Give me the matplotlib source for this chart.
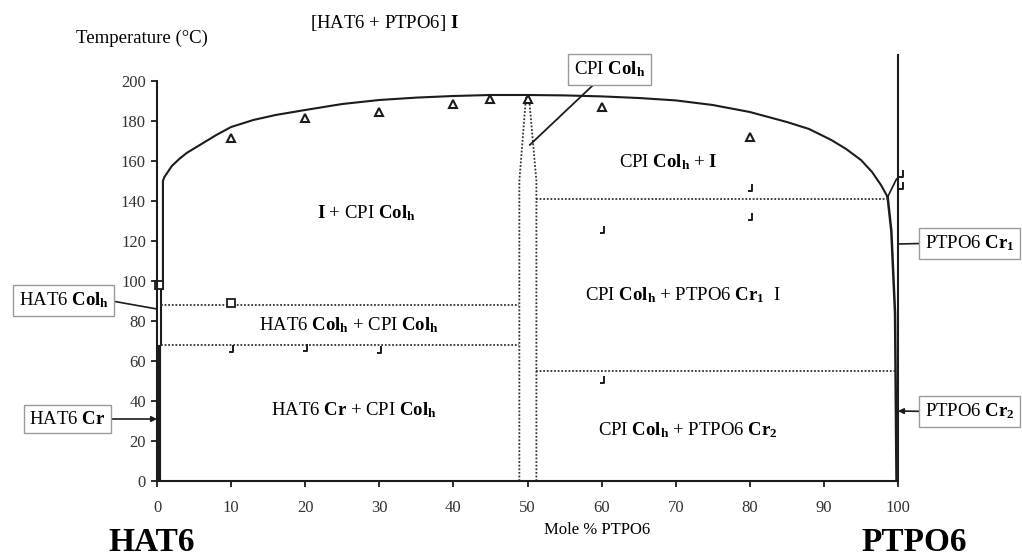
import matplotlib.pyplot as plt
from matplotlib.path import Path

plt.rcParams['font.family'] = 'Liberation Serif'
plt.rcParams['mathtext.fontset'] = 'custom'
plt.rcParams['mathtext.rm'] = 'Liberation Serif'
plt.rcParams['mathtext.it'] = 'Liberation Serif:italic'
plt.rcParams['mathtext.bf'] = 'Liberation Serif:bold'

ink = '#1c1c1c'

# liquidus (solid curve) and its continuation at the PTPO6 side
liq_x = [0.8, 0.8, 1, 2, 3, 4, 6, 8, 10, 13, 16, 20, 25, 30, 35, 40, 45, 50,
         55, 60, 65, 70, 75, 80, 85, 88, 91, 93, 95, 96.5, 97.7, 98.6]
liq_T = [96, 150, 152, 157.5, 161, 164, 168.5, 173, 177, 180.5, 183, 185.5, 188.5, 190.5, 191.7, 192.5, 193, 193,
         192.8, 192.3, 191.5, 190.3, 188, 184.5, 179.5, 176, 170.5, 166, 160.5, 154.5, 148, 142]
right_x = [98.6, 99.1, 99.6, 99.8]
right_T = [142, 125, 84, 0]
branch_x = [98.6, 99.8]
branch_T = [142, 151]

# pure components
hat_cr_T = [0, 67]
hat_col_T = [68, 97]
ptpo_T = [0, 213]

# dotted phase boundaries
left_iso_T = [88, 68]
left_iso_x = [0.5, 48.9]
right_iso_T = [141, 55]
right_iso_x0 = 51.2
right_iso_x1 = [98.6, 99.6]
col_left_x = [48.9, 48.9, 49.8]
col_left_T = [0, 150, 192]
col_right_x = [51.2, 51.2, 50.2]
col_right_T = [0, 150, 192]

# measured transitions
tri_x = [10, 20, 30, 40, 45, 50, 60, 80]
tri_T = [171.5, 181.5, 184.5, 188.5, 191, 191, 187, 172]
sq_x = [10, 0.3]
sq_T = [89, 98]
hook_x = [10, 20, 30, 60, 60, 80, 80, 100.4, 100.4]
hook_T = [65.5, 66, 65, 125, 50, 146, 131.5, 153, 147]

fig = plt.figure(figsize=(10.22, 5.58), dpi=100)
ax = fig.add_axes([157/1022, 1 - 481/558, (898 - 157)/1022, 400/558])
ax.set_xlim(0, 100)
ax.set_ylim(0, 200)

ax.plot(liq_x, liq_T, color=ink, lw=1.5)
ax.plot(right_x, right_T, color=ink, lw=1.8)
ax.plot(branch_x, branch_T, color=ink, lw=1.2)
ax.plot([0.3, 0.3], hat_cr_T, color=ink, lw=3)
ax.plot([0.5, 0.5], hat_col_T, color=ink, lw=1.5)
ax.plot([100, 100], ptpo_T, color=ink, lw=1.5, clip_on=False)

dot = dict(color='#333333', lw=1.3, ls=(0, (1, 1)))
for T in left_iso_T:
    ax.plot(left_iso_x, [T, T], **dot)
for T, x1 in zip(right_iso_T, right_iso_x1):
    ax.plot([right_iso_x0, x1], [T, T], **dot)
ax.plot(col_left_x, col_left_T, **dot)
ax.plot(col_right_x, col_right_T, **dot)

hook = Path([(0.5, 1), (0.5, -0.5), (-0.5, -0.5)], [Path.MOVETO, Path.LINETO, Path.LINETO])
ax.plot(tri_x, tri_T, ls='none', marker='^', ms=6, mfc='white', mec=ink, mew=1.5)
ax.plot(sq_x, sq_T, ls='none', marker='s', ms=5.5, mfc='white', mec=ink, mew=1.3, clip_on=False)
ax.plot(hook_x, hook_T, ls='none', marker=hook, ms=7, mfc='none', mec=ink, mew=1.4, clip_on=False)

for s in ['top', 'right']:
    ax.spines[s].set_visible(False)
for s in ['left', 'bottom']:
    ax.spines[s].set_linewidth(1.5)
    ax.spines[s].set_color(ink)
ax.set_xticks(range(0, 101, 10))
ax.set_yticks(range(0, 201, 20))
ax.tick_params(axis='both', direction='out', length=4, width=1.3, color=ink,
               labelsize=12, labelcolor='#333333')
ax.tick_params(axis='x', pad=10)
ax.tick_params(axis='y', pad=4)

fs = 13.5
col = r'$\mathbf{Col_h}$'
ax.text(69, 159.5, 'CPI ' + col + r' + $\mathbf{I}$', fontsize=fs, ha='center', va='center')
ax.text(28.2, 134, r'$\mathbf{I}$ + CPI ' + col, fontsize=fs, ha='center', va='center')
ax.text(25.9, 78, 'HAT6 ' + col + ' + CPI ' + col, fontsize=fs, ha='center', va='center')
ax.text(26.6, 35.5, r'HAT6 $\mathbf{Cr}$ + CPI ' + col, fontsize=fs, ha='center', va='center')
ax.text(71, 93, 'CPI ' + col + r' + PTPO6 $\mathbf{Cr_1}$  I', fontsize=fs, ha='center', va='center')
ax.text(71.7, 25.5, 'CPI ' + col + r' + PTPO6 $\mathbf{Cr_2}$', fontsize=fs, ha='center', va='center')

box = dict(boxstyle='square,pad=0.3', fc='white', ec='#9a9a9a', lw=1)
ax.annotate('CPI ' + col, xy=(50.3, 168), xytext=(61.1, 205.7), fontsize=fs,
            ha='center', va='center', bbox=box, annotation_clip=False,
            arrowprops=dict(arrowstyle='-', color=ink, lw=1.3, relpos=(0.35, 0), shrinkA=0, shrinkB=0))
ax.annotate('HAT6 ' + col, xy=(0, 86), xytext=(-12.6, 90.3), fontsize=fs,
            ha='center', va='center', bbox=box, annotation_clip=False,
            arrowprops=dict(arrowstyle='-', color=ink, lw=1.2, relpos=(1, 0.5), shrinkA=0, shrinkB=0))
ax.annotate(r'HAT6 $\mathbf{Cr}$', xy=(0, 31), xytext=(-12.1, 31), fontsize=fs,
            ha='center', va='center', bbox=box, annotation_clip=False,
            arrowprops=dict(arrowstyle='-|>', mutation_scale=8, color=ink, lw=1.2, relpos=(1, 0.5), shrinkA=0, shrinkB=0))
ax.annotate(r'PTPO6 $\mathbf{Cr_1}$', xy=(100, 118.5), xytext=(109.7, 118.8), fontsize=fs,
            ha='center', va='center', bbox=box, annotation_clip=False,
            arrowprops=dict(arrowstyle='-', color=ink, lw=1.2, relpos=(0, 0.5), shrinkA=0, shrinkB=0))
ax.annotate(r'PTPO6 $\mathbf{Cr_2}$', xy=(100, 35), xytext=(109.7, 34.8), fontsize=fs,
            ha='center', va='center', bbox=box, annotation_clip=False,
            arrowprops=dict(arrowstyle='-|>', mutation_scale=8, color=ink, lw=1.2, relpos=(0, 0.5), shrinkA=0, shrinkB=0))

fig.text(141.5/1022, 1 - 38/558, 'Temperature (°C)', fontsize=fs, ha='center', va='center')
fig.text(384/1022, 1 - 23/558, r'[HAT6 + PTPO6] $\mathbf{I}$', fontsize=fs, ha='center', va='center')
fig.text(597/1022, 1 - 530/558, 'Mole % PTPO6', fontsize=12, ha='center', va='center')
fig.text(152/1022, 1 - 551/558, 'HAT6', fontsize=24, fontweight='bold', ha='center', va='baseline')
fig.text(914/1022, 1 - 551/558, 'PTPO6', fontsize=24, fontweight='bold', ha='center', va='baseline')

fig.savefig('out.png', dpi=100)
